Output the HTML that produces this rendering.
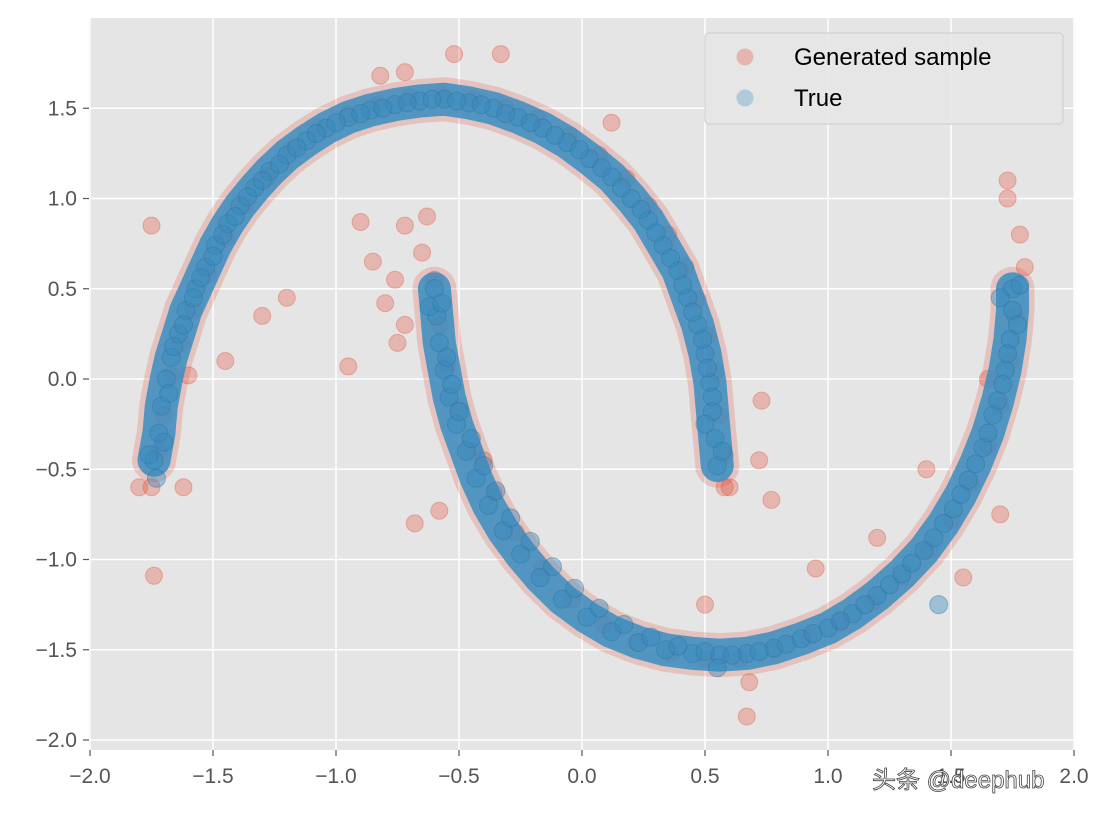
<!DOCTYPE html>
<html><head><meta charset="utf-8">
<style>
html,body{margin:0;padding:0;background:#fff;}
svg{display:block;}
text{font-family:"Liberation Sans","DejaVu Sans","Noto Sans CJK SC",sans-serif;}
</style></head>
<body>
<svg id="chart" width="1112" height="818" viewBox="0 0 1112 818" xmlns="http://www.w3.org/2000/svg">
<rect x="89" y="18" width="986" height="732" fill="#e5e5e5"/>
<g id="grid"></g>
<g id="red"></g>
<g id="blue"></g>
<g id="axes"></g>
<g>
<rect x="705" y="33" width="358" height="91" rx="4" fill="#e5e5e5" fill-opacity="0.9" stroke="#cccccc" stroke-width="1"/>
<g>
<circle cx="745" cy="57" r="8.5" fill="#E24A33" fill-opacity="0.3"/>
<text x="794" y="65" font-size="24" fill="#000">Generated sample</text>
</g>
<g>
<circle cx="745" cy="98" r="8.5" fill="#348ABD" fill-opacity="0.3"/>
<text x="794" y="106" font-size="24" fill="#000">True</text>
</g>
</g>
<text x="872" y="788" font-size="24" fill="#fff" stroke="#444" stroke-width="0.8">头条 @deephub</text>
</svg>
<script>
const xTicks=[-2.0,-1.5,-1.0,-0.5,0.0,0.5,1.0,1.5,2.0];
const yTicks=[-2.0,-1.5,-1.0,-0.5,0.0,0.5,1.0,1.5];
const xTickLabels=["\u22122.0","\u22121.5","\u22121.0","\u22120.5","0.0","0.5","1.0","1.5","2.0"];
const yTickLabels=["\u22122.0","\u22121.5","\u22121.0","\u22120.5","0.0","0.5","1.0","1.5"];
// True samples: upper moon curve
const upperX=[-1.74,-1.72,-1.71,-1.69,-1.67,-1.64,-1.61,-1.57,-1.53,-1.49,-1.44,-1.39,-1.33,-1.27,-1.2,-1.12,-1.04,-0.95,-0.86,-0.76,-0.66,-0.56,-0.46,-0.36,-0.26,-0.16,-0.06,0.03,0.12,0.2,0.27,0.33,0.39,0.43,0.47,0.5,0.52,0.53,0.54,0.55];
const upperY=[-0.45,-0.3,-0.15,0.0,0.12,0.25,0.38,0.5,0.62,0.74,0.86,0.96,1.06,1.15,1.24,1.32,1.39,1.45,1.49,1.52,1.54,1.55,1.53,1.5,1.45,1.39,1.31,1.22,1.12,1.0,0.88,0.74,0.6,0.45,0.3,0.14,-0.02,-0.18,-0.33,-0.48];
// True samples: lower moon curve
const lowerX=[-0.6,-0.59,-0.58,-0.56,-0.54,-0.51,-0.47,-0.43,-0.38,-0.32,-0.25,-0.17,-0.08,0.02,0.12,0.23,0.34,0.45,0.56,0.67,0.78,0.89,1.0,1.1,1.2,1.3,1.39,1.47,1.54,1.6,1.65,1.69,1.72,1.74,1.75,1.75];
const lowerY=[0.5,0.35,0.2,0.05,-0.1,-0.25,-0.4,-0.55,-0.7,-0.84,-0.97,-1.1,-1.22,-1.32,-1.4,-1.46,-1.5,-1.52,-1.53,-1.52,-1.49,-1.44,-1.38,-1.3,-1.2,-1.08,-0.95,-0.8,-0.64,-0.47,-0.3,-0.12,0.05,0.22,0.38,0.5];
// True samples: scattered extras
const trueX=[-1.7,-1.68,-1.66,-1.62,-1.58,-1.55,-1.5,-1.46,-1.41,-1.36,-1.3,-1.23,-1.16,-1.08,-1.0,-0.9,-0.81,-0.71,-0.61,-0.51,-0.41,-0.31,-0.21,-0.11,-0.01,0.08,0.16,0.24,0.3,0.36,0.41,0.45,0.49,0.51,0.53,0.57,0.5,-1.76,-1.73,
-0.62,-0.57,-0.55,-0.53,-0.5,-0.45,-0.4,-0.35,-0.29,-0.21,-0.12,-0.03,0.07,0.17,0.28,0.39,0.5,0.61,0.72,0.83,0.94,1.05,1.15,1.25,1.34,1.43,1.51,1.57,1.63,1.67,1.71,1.73,1.77,1.7,1.78,0.55,1.45];
const trueY=[-0.35,-0.08,0.18,0.3,0.45,0.56,0.68,0.8,0.9,1.01,1.1,1.19,1.28,1.36,1.42,1.47,1.5,1.53,1.55,1.54,1.52,1.47,1.42,1.35,1.27,1.17,1.06,0.94,0.81,0.67,0.52,0.37,0.22,0.06,-0.1,-0.4,-0.25,-0.42,-0.55,
0.4,0.42,0.12,-0.03,-0.18,-0.33,-0.48,-0.62,-0.77,-0.9,-1.04,-1.16,-1.27,-1.36,-1.43,-1.48,-1.51,-1.53,-1.51,-1.47,-1.41,-1.34,-1.25,-1.14,-1.02,-0.88,-0.72,-0.56,-0.38,-0.2,-0.03,0.14,0.3,0.45,0.52,-1.6,-1.25];
// Generated samples (curve points plus off-manifold outliers)
const genX=[-1.75,-1.72,-1.7,-1.67,-1.63,-1.58,-1.52,-1.45,-1.37,-1.28,-1.18,-1.07,-0.95,-0.83,-0.7,-0.57,-0.44,-0.31,-0.18,-0.05,0.07,0.18,0.27,0.35,0.42,0.47,0.51,0.54,0.56,0.58,
-0.6,-0.58,-0.55,-0.5,-0.44,-0.36,-0.27,-0.16,-0.04,0.09,0.22,0.36,0.5,0.64,0.78,0.92,1.05,1.18,1.3,1.41,1.5,1.58,1.65,1.7,1.74,1.76,
-1.75,-1.2,-1.3,-1.45,-1.6,-0.95,-0.9,-0.72,-0.63,-0.85,-0.76,-0.8,-0.72,-0.75,-0.65,-0.68,-0.58,-0.4,-1.74,0.67,0.73,0.77,0.6,0.72,-0.52,-0.82,-0.72,1.73,1.73,1.78,1.8,1.55,1.7,1.65,-0.33,0.12,0.5,1.4,0.95,1.2,-1.8,-1.62,0.68,0.58];
const genY=[-0.6,-0.4,-0.2,0.02,0.2,0.38,0.58,0.78,0.96,1.12,1.27,1.39,1.47,1.52,1.56,1.57,1.55,1.5,1.44,1.35,1.24,1.11,0.96,0.8,0.62,0.44,0.24,0.04,-0.2,-0.42,
0.55,0.3,0.08,-0.16,-0.4,-0.63,-0.85,-1.05,-1.22,-1.36,-1.46,-1.52,-1.55,-1.55,-1.5,-1.43,-1.35,-1.24,-1.1,-0.95,-0.78,-0.58,-0.37,-0.15,0.1,0.35,
0.85,0.45,0.35,0.1,0.02,0.07,0.87,0.85,0.9,0.65,0.55,0.42,0.3,0.2,0.7,-0.8,-0.73,-0.45,-1.09,-1.87,-0.12,-0.67,-0.6,-0.45,1.8,1.68,1.7,1.1,1.0,0.8,0.62,-1.1,-0.75,0.0,1.8,1.42,-1.25,-0.5,-1.05,-0.88,-0.6,-0.6,-1.68,-0.6];

const NS="http://www.w3.org/2000/svg";
const L=89,R=1075,T=18,B=750;
function sx(v){return 582+v*246;}
function sy(v){return 379-v*180.5;}
function mk(tag,attrs,parent){const e=document.createElementNS(NS,tag);for(const k in attrs)e.setAttribute(k,attrs[k]);parent.appendChild(e);return e;}
function pathOf(xs,ys){return xs.map((v,i)=>(i?'L':'M')+sx(v).toFixed(1)+' '+sy(ys[i]).toFixed(1)).join(' ');}
const grid=document.getElementById('grid'),axes=document.getElementById('axes');
xTicks.forEach((v,i)=>{
  const g=mk('line',{x1:sx(v),x2:sx(v),y1:T,y2:B,stroke:'#fff','stroke-width':1.5},grid);
  
  
  const tk=mk('line',{x1:sx(v),x2:sx(v),y1:B,y2:B+6,stroke:'#555','stroke-width':1.2},axes);
  
  
  const t=mk('text',{x:sx(v),y:B+33,'font-size':21,fill:'#555','text-anchor':'middle'},axes);
  t.textContent=xTickLabels[i];
  
  
});
yTicks.forEach((v,i)=>{
  const g=mk('line',{x1:L,x2:R,y1:sy(v),y2:sy(v),stroke:'#fff','stroke-width':1.5},grid);
  
  
  const tk=mk('line',{x1:L-6,x2:L,y1:sy(v),y2:sy(v),stroke:'#555','stroke-width':1.2},axes);
  
  
  const t=mk('text',{x:L-12,y:sy(v)+7,'font-size':21,fill:'#555','text-anchor':'end'},axes);
  t.textContent=yTickLabels[i];
  
  
});
const red=document.getElementById('red'),blue=document.getElementById('blue');
[[upperX,upperY],[lowerX,lowerY]].forEach(([xs,ys])=>{
  const p=mk('path',{d:pathOf(xs,ys),fill:'none',stroke:'#E24A33','stroke-opacity':0.22,'stroke-width':44,'stroke-linecap':'round','stroke-linejoin':'round'},red);
  
  
});
genX.forEach((v,i)=>{
  const c=mk('circle',{cx:sx(v),cy:sy(genY[i]),r:8.5,fill:'#E24A33','fill-opacity':0.3,stroke:'#E24A33','stroke-opacity':0.35,'stroke-width':1},red);
  
  
});
[[upperX,upperY],[lowerX,lowerY]].forEach(([xs,ys])=>{
  const p=mk('path',{d:pathOf(xs,ys),fill:'none',stroke:'#3A8DC2','stroke-opacity':0.85,'stroke-width':33,'stroke-linecap':'round','stroke-linejoin':'round'},blue);
  
  
});
[[upperX,upperY],[lowerX,lowerY],[trueX,trueY]].forEach(([xs,ys])=>{
  xs.forEach((v,i)=>{
    const c=mk('circle',{cx:sx(v),cy:sy(ys[i]),r:9,fill:'#348ABD','fill-opacity':0.4,stroke:'#2a6f99','stroke-opacity':0.4,'stroke-width':1},blue);
    
    
  });
});
</script>
</body></html>
